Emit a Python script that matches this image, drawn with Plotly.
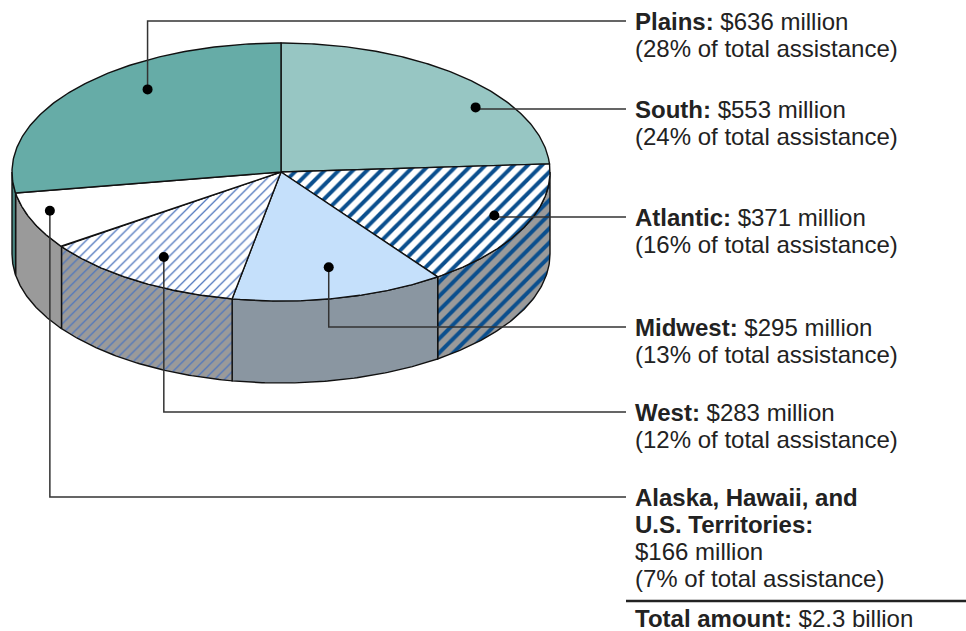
import numpy as np
import plotly.graph_objects as go

# ---------------- data ----------------
regions = ["Plains", "South", "Atlantic", "Midwest", "West",
           "Alaska, Hawaii, and U.S. Territories"]
amounts_musd = [636, 553, 371, 295, 283, 166]
percent_of_total = [28, 24, 16, 13, 12, 7]
total_text = "$2.3 billion"

# order of the slices clockwise from 12 o'clock
pie_order = ["South", "Atlantic", "Midwest", "West",
             "Alaska, Hawaii, and U.S. Territories", "Plains"]

# ---------------- styles / layout settings ----------------
CX, CY, RX, RY, DEPTH = 281, 172, 269, 129, 82
EDGE = dict(color="#111111", width=1.4)
TEXT_COLOR = "#222222"
FONT = "Liberation Sans, Arial, sans-serif"
FS = 24
LABEL_X = 633
LINE_END_X = 626
LINE_STEP = 27

styles = {
    "Plains": dict(top=dict(color="#66aca7"), side=dict(color="#4a8782")),
    "South": dict(top=dict(color="#97c6c3"), side=dict(color="#5f8f8c")),
    "Atlantic": dict(top=dict(color="#ffffff", pattern=dict(shape="/", fgcolor="#0b4f8e", bgcolor="#ffffff", size=10, solidity=0.4)),
                     side=dict(color="#9a9a9a", pattern=dict(shape="/", fgcolor="#0b4f8e", bgcolor="#9a9a9a", size=10, solidity=0.4))),
    "Midwest": dict(top=dict(color="#c5e0fb"), side=dict(color="#8a96a1")),
    "West": dict(top=dict(color="#ffffff", pattern=dict(shape="/", fgcolor="#4f76bd", bgcolor="#ffffff", size=7, solidity=0.18)),
                 side=dict(color="#9a9a9a", pattern=dict(shape="/", fgcolor="#4f76bd", bgcolor="#9a9a9a", size=7, solidity=0.18))),
    "Alaska, Hawaii, and U.S. Territories": dict(top=dict(color="#ffffff"), side=dict(color="#9a9a9a")),
}

# callout anchor placement inside each slice: (fraction along the slice's arc, fraction of radius)
anchor_place = {
    "Plains": (0.62, 0.81), "South": (0.64, 0.88), "Atlantic": (0.46, 0.862),
    "Midwest": (0.48, 0.76), "West": (0.52, 0.79),
    "Alaska, Hawaii, and U.S. Territories": (0.62, 0.91),
}
# first-line y of each label block
label_y = {"Plains": 21, "South": 109, "Atlantic": 217, "Midwest": 327,
           "West": 412, "Alaska, Hawaii, and U.S. Territories": 497}

# ---------------- geometry from values ----------------
amt = dict(zip(regions, amounts_musd))
pct = dict(zip(regions, percent_of_total))
total = sum(amounts_musd)


def pt(t_deg, r=1.0, dy=0.0):
    t = np.radians(t_deg)
    return CX + r * RX * np.cos(t), CY - r * RY * np.sin(t) + dy


angles = {}
a = 90.0
for name in pie_order:
    sweep = 360.0 * amt[name] / total
    angles[name] = (a, a - sweep)
    a -= sweep

fig = go.Figure()


def add_poly(xs, ys, st):
    kw = dict(x=xs, y=ys, mode="lines", fill="toself", line=EDGE,
              fillcolor=st["color"], hoverinfo="skip", showlegend=False)
    if "pattern" in st:
        kw["fillpattern"] = dict(fillmode="replace", **st["pattern"])
    fig.add_trace(go.Scatter(**kw))


# sides (front half only: angles between 0 and -180)
for name in pie_order:
    s, e = angles[name]
    for shift in (0, -360, 360):
        hi = min(s + shift, 0.0)
        lo = max(e + shift, -180.0)
        if hi > lo:
            ts = np.linspace(hi, lo, 80)
            top = [pt(t) for t in ts]
            bot = [pt(t, dy=DEPTH) for t in ts[::-1]]
            poly = top + bot + [top[0]]
            add_poly([p[0] for p in poly], [p[1] for p in poly], styles[name]["side"])

# top faces
for name in pie_order:
    s, e = angles[name]
    ts = np.linspace(s, e, 160)
    poly = [(CX, CY)] + [pt(t) for t in ts] + [(CX, CY)]
    add_poly([p[0] for p in poly], [p[1] for p in poly], styles[name]["top"])

# callouts
for name in pie_order:
    s, e = angles[name]
    f, r = anchor_place[name]
    t = s + (e - s) * f
    dx, dyy = pt(t, r=r)
    ly = label_y[name]
    fig.add_trace(go.Scatter(x=[dx, dx, LINE_END_X], y=[dyy, ly, ly], mode="lines",
                             line=dict(color="#333333", width=1.5),
                             hoverinfo="skip", showlegend=False))
    fig.add_trace(go.Scatter(x=[dx], y=[dyy], mode="markers",
                             marker=dict(color="#000000", size=10),
                             hoverinfo="skip", showlegend=False))

# label texts
def add_text(y, text):
    fig.add_annotation(x=LABEL_X, y=y, xref="x", yref="y", text=text, showarrow=False,
                       xanchor="left", yanchor="middle",
                       font=dict(family=FONT, size=FS, color=TEXT_COLOR))


for name in regions:
    ly = label_y[name]
    money = f"${amt[name]} million"
    share = f"({pct[name]}% of total assistance)"
    if name.startswith("Alaska"):
        add_text(ly, "<b>Alaska, Hawaii, and</b>")
        add_text(ly + LINE_STEP, "<b>U.S. Territories:</b>")
        add_text(ly + 2 * LINE_STEP, money)
        add_text(ly + 3 * LINE_STEP, share)
    else:
        add_text(ly, f"<b>{name}:</b> {money}")
        add_text(ly + LINE_STEP, share)

fig.add_shape(type="line", xref="x", yref="y", x0=LINE_END_X, x1=966, y0=601, y1=601,
              line=dict(color="#222222", width=2.5))
add_text(618, f"<b>Total amount:</b> {total_text}")

fig.update_layout(
    width=966, height=631, margin=dict(l=0, r=0, t=0, b=0),
    paper_bgcolor="white", plot_bgcolor="white",
    xaxis=dict(range=[0, 966], visible=False, fixedrange=True),
    yaxis=dict(range=[631, 0], visible=False, fixedrange=True),
    showlegend=False,
)
fig.write_html("out.html", config={"displayModeBar": False},
               post_script="document.body.style.margin='0';document.body.style.overflow='hidden';")
